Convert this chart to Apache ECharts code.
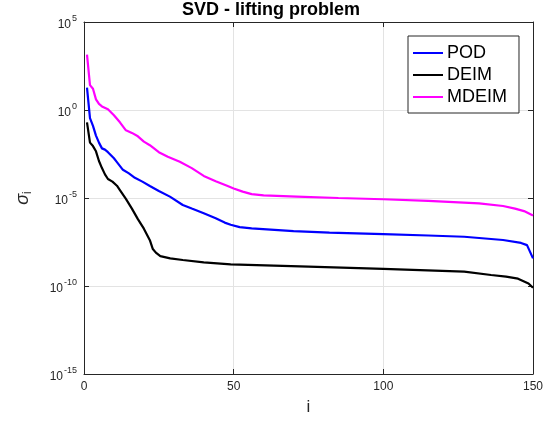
<!DOCTYPE html>
<html>
<head>
<meta charset="utf-8">
<script src="https://cdn.jsdelivr.net/npm/echarts@6/dist/echarts.min.js"></script>
<style>html,body{margin:0;padding:0;background:#fff}#c{width:554px;height:423px}</style>
</head>
<body>
<div id="c"></div>
<script>
// ---- data ([i, sigma_i]) ----
const podData = [
  [1, 18.6], [2, 0.35], [3, 0.125], [4, 0.035], [5, 0.014], [6, 6.6e-3], [7, 5.6e-3], [8, 4e-3],
  [10, 1.8e-3], [11, 1.1e-3], [13, 4e-4], [15, 2.5e-4], [17, 1.4e-4], [19.5, 8.5e-5], [22, 4.8e-5],
  [25, 2.5e-5], [28.7, 1.2e-5], [33, 4e-6], [36, 2.5e-6], [40, 1.35e-6], [44, 7e-7], [47, 4e-7],
  [49, 3e-7], [52, 2.2e-7], [56, 1.9e-7], [70, 1.3e-7], [82, 1.07e-7], [100, 8.9e-8], [115, 7.4e-8],
  [127, 6.3e-8], [140, 4.1e-8], [146, 2.8e-8], [148, 2.1e-8], [150, 3.7e-9]
];
const deimData = [
  [1, 0.2], [2, 0.014], [3, 8.9e-3], [4, 4.5e-3], [5, 1.26e-3], [6, 5e-4], [7, 2.2e-4], [8, 1.2e-4],
  [9.5, 8.5e-5], [11, 5e-5], [12, 2.8e-5], [14, 8.9e-6], [16, 2.5e-6], [18, 6.3e-7], [20, 1.8e-7],
  [22, 4e-8], [23, 1.26e-8], [24, 7.9e-9], [25.5, 5e-9], [28.8, 3.7e-9], [33, 3e-9], [40, 2.2e-9],
  [49, 1.7e-9], [75, 1.26e-9], [100, 9.3e-10], [127, 6.5e-10], [136, 4.2e-10], [141, 3.4e-10],
  [145, 2.6e-10], [148.5, 1.4e-10], [150, 8e-11]
];
const mdeimData = [
  [1, 1.4e3], [2, 26], [3, 16], [4, 4], [5, 2.2], [6, 1.6], [8, 1.1], [10, 0.5], [12, 0.2],
  [14, 0.07], [16, 0.05], [18, 0.032], [20, 0.016], [22, 0.01], [25, 4e-3], [28, 2.2e-3],
  [32, 1.15e-3], [36, 5e-4], [40, 1.8e-4], [44, 9e-5], [48, 4.8e-5], [50, 3.5e-5], [53, 2.3e-5],
  [56, 1.66e-5], [60, 1.4e-5], [71, 1.2e-5], [85, 1e-5], [100, 8.5e-6], [115, 6.8e-6],
  [132, 5e-6], [140, 3.5e-6], [144, 2.5e-6], [147, 1.8e-6], [150, 1e-6]
];
const seriesNames = ['POD', 'DEIM', 'MDEIM'];
const xTicks = [0, 50, 100, 150];
const yTickExponents = [-15, -10, -5, 0, 5];
const titleText = 'SVD - lifting problem';

const FONT = 'Liberation Sans, Arial, Helvetica, sans-serif';
const AX = '#262626';
const chart = echarts.init(document.getElementById('c'), null, {renderer: 'canvas'});

const yLabelFmt = v => {
  const e = Math.round(Math.log10(v));
  return yTickExponents.includes(e) ? '{b|10}{s|' + e + '}' : '';
};

const commonX = {
  type: 'value', min: xTicks[0], max: xTicks[xTicks.length - 1], interval: 50,
  axisLine: {show: true, onZero: false, lineStyle: {color: AX, width: 1}},
  axisTick: {show: true, inside: true, length: 5, lineStyle: {color: AX}},
  splitLine: {show: false}
};
const commonY = {
  type: 'log', logBase: 10, min: 1e-15, max: 1e5, interval: 5,
  axisLine: {show: true, onZero: false, lineStyle: {color: AX, width: 1}},
  axisTick: {show: true, inside: true, length: 5, lineStyle: {color: AX}},
  splitLine: {show: false}
};

chart.setOption({
  animation: false,
  backgroundColor: '#fff',
  title: {
    text: titleText, left: 271, top: 1, textAlign: 'center', padding: 0,
    textStyle: {fontFamily: FONT, fontWeight: 'bold', fontSize: 18, color: '#000'}
  },
  grid: {left: 84, right: 21, top: 22, bottom: 49, containLabel: false},
  legend: {
    data: seriesNames, orient: 'vertical', left: 408, top: 36,
    icon: 'rect', itemWidth: 30, itemHeight: 2, itemGap: 4,
    padding: [8, 12, 7, 5],
    borderColor: AX, borderWidth: 1, backgroundColor: '#fff',
    textStyle: {fontFamily: FONT, fontSize: 18, color: '#000', padding: [0, 0, 0, -1]}
  },
  xAxis: [
    Object.assign({}, commonX, {
      position: 'bottom',
      name: 'i', nameLocation: 'middle', nameGap: 25,
      nameTextStyle: {fontFamily: FONT, fontSize: 17, color: AX},
      axisLabel: {show: true, margin: 7, fontFamily: FONT, fontSize: 12, color: AX},
      splitLine: {show: true, lineStyle: {color: '#e3e3e3', width: 1}}
    }),
    Object.assign({}, commonX, {position: 'top', axisLabel: {show: false}})
  ],
  yAxis: [
    Object.assign({}, commonY, {
      position: 'left',
      name: '{s|σ}{i|i}', nameLocation: 'middle', nameGap: 50, nameRotate: 90,
      nameTextStyle: {
        rich: {
          s: {fontFamily: FONT, fontSize: 18, color: AX, fontStyle: 'italic'},
          i: {fontFamily: FONT, fontSize: 12, color: AX, padding: [10, 0, 0, 0]}
        }
      },
      axisLabel: {
        show: true, margin: 7, formatter: yLabelFmt,
        rich: {
          b: {fontFamily: FONT, fontSize: 12, color: AX, padding: [6, 0, 0, 0]},
          s: {fontFamily: FONT, fontSize: 9, color: AX, padding: [0, 0, 6, 1]}
        }
      },
      splitLine: {show: true, lineStyle: {color: '#e3e3e3', width: 1}}
    }),
    Object.assign({}, commonY, {position: 'right', axisLabel: {show: false}})
  ],
  series: [
    {name: seriesNames[0], type: 'line', data: podData, showSymbol: false, symbol: 'none',
     lineStyle: {color: '#0000ff', width: 2.2}, itemStyle: {color: '#0000ff'}, z: 3},
    {name: seriesNames[1], type: 'line', data: deimData, showSymbol: false, symbol: 'none',
     lineStyle: {color: '#000000', width: 2.2}, itemStyle: {color: '#000000'}, z: 3},
    {name: seriesNames[2], type: 'line', data: mdeimData, showSymbol: false, symbol: 'none',
     lineStyle: {color: '#ff00ff', width: 2.2}, itemStyle: {color: '#ff00ff'}, z: 3}
  ]
});
</script>
</body>
</html>
